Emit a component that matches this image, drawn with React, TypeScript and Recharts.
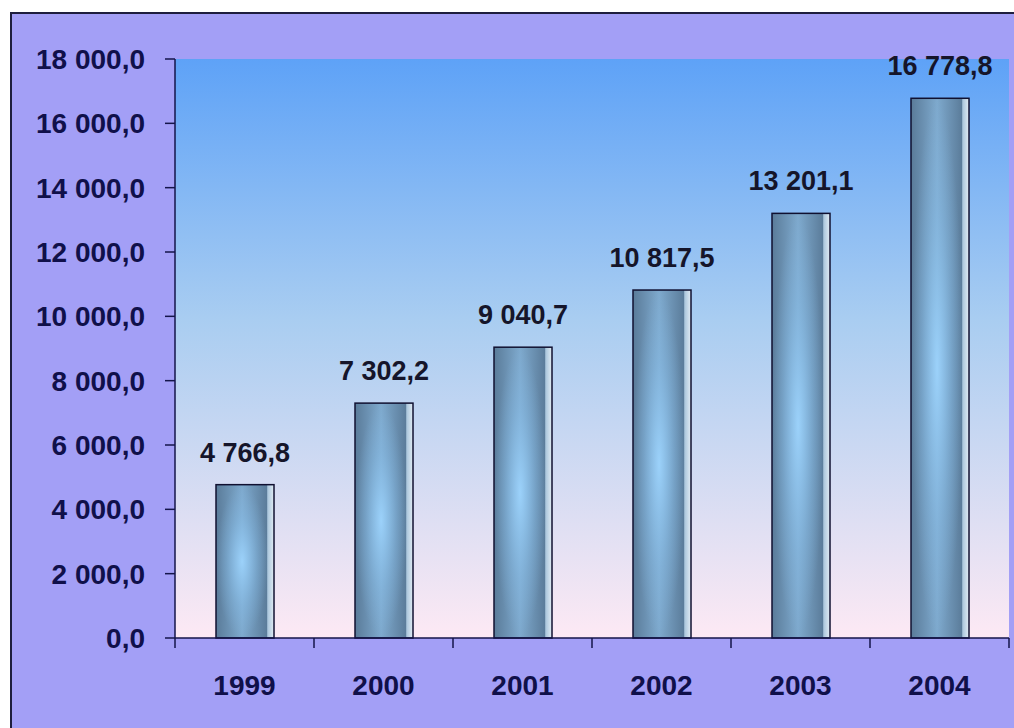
import React from 'react'
import { BarChart, Bar, XAxis, YAxis, CartesianGrid, LabelList } from 'recharts'

const years = ['1999', '2000', '2001', '2002', '2003', '2004']
const values = [4766.8, 7302.2, 9040.7, 10817.5, 13201.1, 16778.8]
const yTicks = [0, 2000, 4000, 6000, 8000, 10000, 12000, 14000, 16000, 18000]

const data = years.map((year, i) => ({ year, value: values[i] }))

const W = 1002
const H = 714
const M = { top: 45, right: 5, bottom: 0, left: 0 }
const Y_W = 163
const X_H = 90
const BAND = (W - Y_W - M.right - M.left) / years.length

const FONT = '"Liberation Sans", Arial, sans-serif'
const AXIS = '#15154a'

const fmt = (v: number) => {
  const [int, dec] = v.toFixed(1).split('.')
  return int.replace(/\B(?=(\d{3})+(?!\d))/g, ' ') + ',' + dec
}

const XTick = (props: any) => {
  const { x, y, payload, index } = props
  return (
    <g>
      <line x1={x - BAND / 2} x2={x - BAND / 2} y1={y} y2={y + 10} stroke={AXIS} strokeWidth={1.5} />
      {index === years.length - 1 && (
        <line x1={x + BAND / 2} x2={x + BAND / 2} y1={y} y2={y + 10} stroke={AXIS} strokeWidth={1.5} />
      )}
      <text x={x} y={y + 57} textAnchor="middle" fill="#10104a" fontSize={28} fontWeight="bold" fontFamily={FONT}>
        {payload.value}
      </text>
    </g>
  )
}

const ValueLabel = (props: any) => {
  const { x, y, width, value } = props
  return (
    <text x={x + width / 2} y={y - 23} textAnchor="middle" fill="#15152a" fontSize={27} fontWeight="bold" fontFamily={FONT}>
      {fmt(Number(value))}
    </text>
  )
}

const GlassBar = (props: any) => {
  const { x, y, width, height } = props
  if (!height || height <= 0) return null
  return (
    <g>
      <rect x={x} y={y} width={width} height={height} fill="url(#barH)" />
      <rect x={x} y={y} width={width * 0.9} height={height} fill="url(#barGlow)" />
      <rect x={x} y={y} width={width} height={height} fill="none" stroke="#101030" strokeWidth={1.5} />
    </g>
  )
}

export default function App() {
  return (
    <div
      style={{
        position: 'absolute', left: 10, top: 12, width: 1004, height: 716,
        background: '#a39ff6', borderTop: '2px solid #1e1e3e', borderLeft: '2px solid #1e1e3e',
        boxSizing: 'border-box',
      }}
    >
      <BarChart width={W} height={H} data={data} margin={M}>
        <defs>
          <linearGradient id="plotBg" x1="0" y1="0" x2="0" y2="1">
            <stop offset="0%" stopColor="#5ea2f7" />
            <stop offset="45%" stopColor="#a9cdf1" />
            <stop offset="100%" stopColor="#fde9f4" />
          </linearGradient>
          <linearGradient id="barH" x1="0" y1="0" x2="1" y2="0">
            <stop offset="0%" stopColor="#5a7b99" />
            <stop offset="45%" stopColor="#7ea9cd" />
            <stop offset="88%" stopColor="#5b7c9a" />
            <stop offset="89%" stopColor="#aac6dc" />
            <stop offset="100%" stopColor="#e2ecf4" />
          </linearGradient>
          <radialGradient id="barGlow" cx="50%" cy="50%" r="50%">
            <stop offset="0%" stopColor="#9fd6ff" stopOpacity={0.9} />
            <stop offset="60%" stopColor="#8cc4f0" stopOpacity={0.35} />
            <stop offset="100%" stopColor="#8cc4f0" stopOpacity={0} />
          </radialGradient>
        </defs>
        <CartesianGrid horizontal={false} vertical={false} fill="url(#plotBg)" stroke="none" />
        <XAxis
          dataKey="year"
          height={X_H}
          tickLine={false}
          tickSize={0}
          tickMargin={0}
          axisLine={{ stroke: AXIS, strokeWidth: 1.5 }}
          tick={<XTick />}
          interval={0}
        />
        <YAxis
          width={Y_W}
          domain={[0, 18000]}
          ticks={yTicks}
          interval={0}
          tickFormatter={fmt}
          tickSize={10}
          tickMargin={20}
          axisLine={{ stroke: AXIS, strokeWidth: 1.5 }}
          tickLine={{ stroke: AXIS, strokeWidth: 1.5 }}
          tick={{ fill: '#10104a', fontSize: 28, fontWeight: 'bold', fontFamily: FONT }}
        />
        <Bar dataKey="value" barSize={58} shape={<GlassBar />} isAnimationActive={false}>
          <LabelList dataKey="value" content={<ValueLabel />} />
        </Bar>
      </BarChart>
    </div>
  )
}
